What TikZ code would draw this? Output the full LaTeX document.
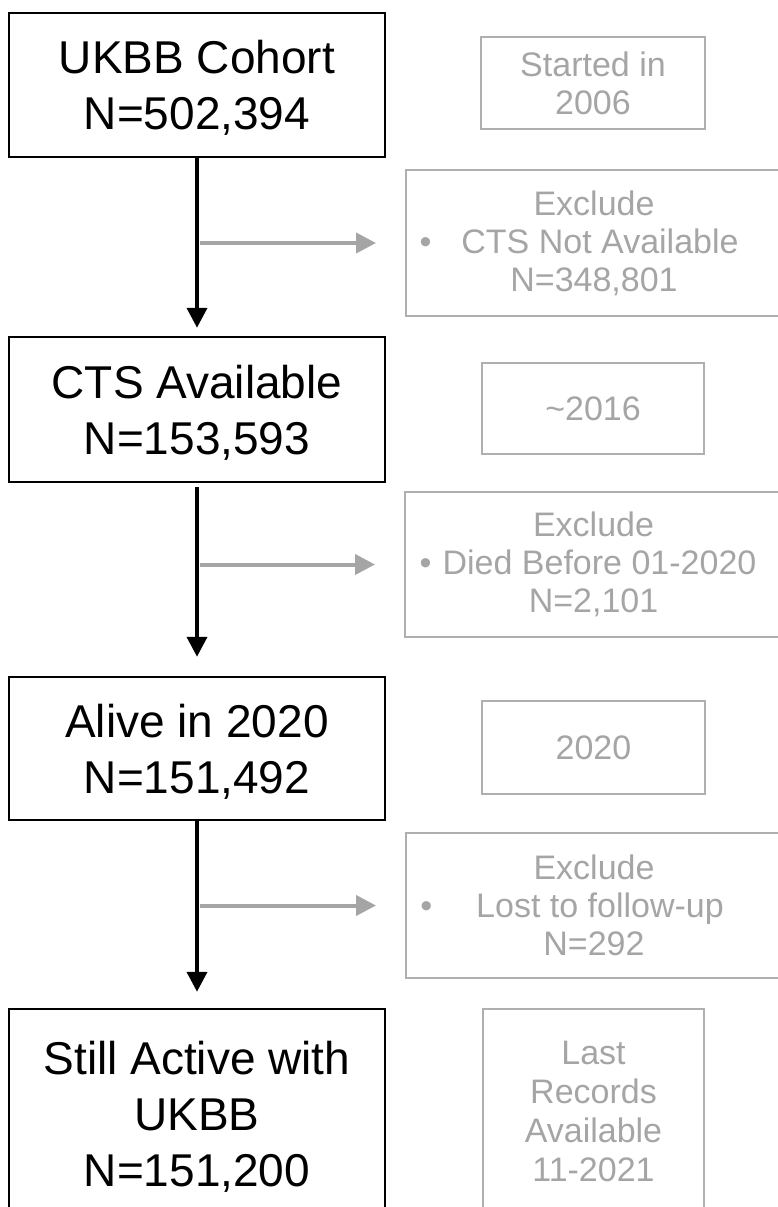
\documentclass[tikz,border=0pt]{standalone}
\usepackage{fontspec}
\setmainfont{Liberation Sans}
\usetikzlibrary{arrows.meta}
\definecolor{lgray}{HTML}{A5A5A5}
\definecolor{bgray}{HTML}{AFAFAF}
\begin{document}
\begin{tikzpicture}[x=1pt,y=-1pt,
  mainbox/.style={draw=black, line width=2.5pt, minimum width=376pt, inner sep=0pt,
    align=center, text depth=0pt, font=\fontsize{46}{56}\selectfont},
  sidebox/.style={draw=bgray, line width=2pt, inner sep=0pt, align=center,
    text=lgray, font=\fontsize{34}{38}\selectfont},
  flow/.style={line width=4pt, -{Triangle[width=20pt,length=20pt]}},
  excl/.style={draw=lgray, line width=4pt, -{Triangle[width=20pt,length=20pt]}},
]
\useasboundingbox (0,0) rectangle (778,1207);
\clip (0,0) rectangle (778,1207);

% main boxes
\node[mainbox, minimum height=144pt] (b1) at (197,85) {UKBB Cohort\\N=502,394};
\node[mainbox, minimum height=145pt] (b2) at (197,409.5) {CTS Available\\N=153,593};
\node[mainbox, minimum height=143pt] (b3) at (197,748.5) {Alive in 2020\\N=151,492};
\node[mainbox, minimum height=210pt] (b4) at (197,1114)
  {Still Active with\\UKBB\\N=151,200};

% side boxes
\node[sidebox, minimum width=224pt, minimum height=92pt] (r1) at (593,83) {Started in\\2006};
\node[sidebox, minimum width=376pt, minimum height=146pt] (e1) at (594,243)
  {Exclude\\\hspace*{12pt}\llap{•\hspace{30pt}}CTS Not Available\\N=348,801};
\node[sidebox, minimum width=222pt, minimum height=91pt] (r2) at (593,408.5) {\textasciitilde2016};
\node[sidebox, minimum width=377pt, minimum height=145pt] (e2) at (593.5,564.5)
  {Exclude\\\hspace*{12pt}\llap{•\hspace{11pt}}Died Before 01-2020\\N=2,101};
\node[sidebox, minimum width=223pt, minimum height=93pt] (r3) at (593.5,747.5) {2020};
\node[sidebox, minimum width=376pt, minimum height=145pt] (e3) at (594,905.5)
  {Exclude\\\hspace*{12pt}\llap{•\hspace{44pt}}Lost to follow-up\\N=292};
\node[sidebox, minimum width=221pt, minimum height=204pt, font=\fontsize{34}{39}\selectfont] (r4) at (593.5,1111)
  {Last\\Records\\Available\\11-2021};

% flow arrows
\draw[flow, shorten >=8pt] (b1.south) -- (b2.north);
\draw[flow, shorten <=4pt, shorten >=19pt] (b2.south) -- (b3.north);
\draw[flow, shorten >=16pt] (b3.south) -- (b4.north);

% exclusion arrows
\draw[excl, shorten <=3pt, shorten >=29pt] (b1.south |- e1.west) -- (e1.west);
\draw[excl, shorten <=3pt, shorten >=29pt] (b2.south |- e2.west) -- (e2.west);
\draw[excl, shorten <=3pt, shorten >=29pt] (b3.south |- e3.west) -- (e3.west);
\end{tikzpicture}
\end{document}
